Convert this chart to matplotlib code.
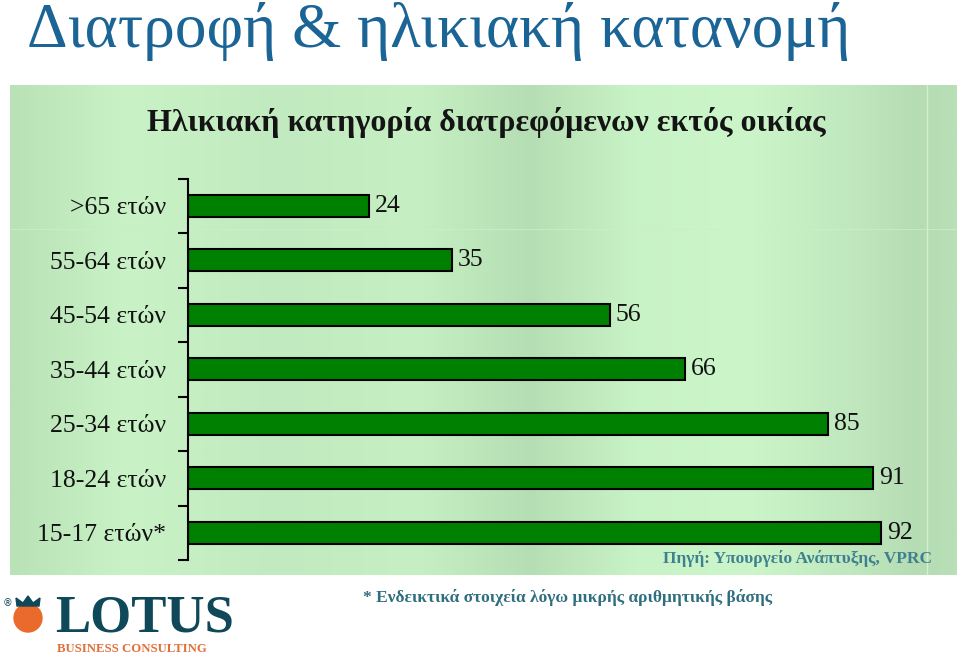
import matplotlib
matplotlib.use("Agg")
import matplotlib.pyplot as plt
import numpy as np
from matplotlib.colors import LinearSegmentedColormap
from matplotlib.patches import Circle, Polygon

categories = [">65 ετών", "55-64 ετών", "45-54 ετών", "35-44 ετών",
              "25-34 ετών", "18-24 ετών", "15-17 ετών*"]
values = [24, 35, 56, 66, 85, 91, 92]

title = "Διατροφή & ηλικιακή κατανομή"
subtitle = "Ηλικιακή κατηγορία διατρεφόμενων εκτός οικίας"
source = "Πηγή: Υπουργείο Ανάπτυξης, VPRC"
footnote = "* Ενδεικτικά στοιχεία λόγω μικρής αριθμητικής βάσης"

W, H = 959, 659
SERIF = ["Liberation Serif", "DejaVu Serif"]


def px(x, y):
    # pixel coords (from top-left) to figure fraction
    return x / W, 1 - y / H


def box(x0, y0, x1, y1):
    return [x0 / W, 1 - y1 / H, (x1 - x0) / W, (y1 - y0) / H]


fig = plt.figure(figsize=(W / 100, H / 100), dpi=100)
fig.patch.set_facecolor("white")

# green panel with soft vertical bands
bg = fig.add_axes(box(10, 85, 957, 575))
bands = LinearSegmentedColormap.from_list("bands", [
    (0.00, "#b9e2b7"), (0.12, "#c9f2c6"), (0.28, "#c2eac0"),
    (0.43, "#c6efc3"), (0.55, "#b6deb4"), (0.66, "#c8f3c6"),
    (0.78, "#ccf6c9"), (0.90, "#bfe6bd"), (0.96, "#b5dcb3"),
    (1.00, "#b9dfb7")])
grad = np.linspace(0, 1, 400).reshape(1, -1)
bg.imshow(grad, aspect="auto", cmap=bands, extent=[0, 1, 0, 1])
bg.axvline(0.968, color="#d2efd0", lw=1)
bg.axhline(1 - (229 - 85) / 490, color="#d0ecce", lw=0.8, alpha=0.7)
bg.set_xlim(0, 1)
bg.set_ylim(0, 1)
bg.axis("off")

# bar chart
ax = fig.add_axes(box(188, 178.5, 941, 560))
ax.set_facecolor("none")
y = np.arange(len(categories))
ax.barh(y, values, height=0.4, color="#008000", edgecolor="black", linewidth=1.5)
for yi, v in zip(y, values):
    ax.text(v + 0.8, yi, str(v), va="center", ha="left",
            fontsize=18.5, family=SERIF, color="#111111")
ax.set_xlim(0, 100)
ax.set_ylim(len(categories) - 0.5, -0.5)
ax.set_yticks(y)
ax.set_yticklabels(categories, family=SERIF, fontsize=18.5, color="#111111")
ax.set_yticks(np.arange(-0.5, len(categories)), minor=True)
ax.tick_params(axis="y", which="major", length=0, pad=16)
ax.tick_params(axis="y", which="minor", length=7, width=1.5, direction="out")
ax.set_xticks([])
for s in ["top", "right", "bottom"]:
    ax.spines[s].set_visible(False)
ax.spines["left"].set_linewidth(1.5)

# texts
fig.text(*px(27, 47), title, family=SERIF, fontsize=45.5, color="#1b6496",
         ha="left", va="baseline")
fig.text(*px(486, 131), subtitle, family=SERIF, fontsize=23, weight="bold",
         color="#141414", ha="center", va="baseline")
fig.text(*px(932, 563), source, family=SERIF, fontsize=12.5, weight="bold",
         color="#3f8090", ha="right", va="baseline")
fig.text(*px(568, 602), footnote, family=SERIF, fontsize=12.5, weight="bold",
         color="#2e6e7e", ha="center", va="baseline")

# logo
lg = fig.add_axes([0, 0, 1, 1])
lg.set_xlim(0, W)
lg.set_ylim(H, 0)
lg.axis("off")
lg.add_patch(Circle((28, 618), 14, color="#ea6a2c"))
lg.add_patch(Polygon([[17, 606], [16, 598], [23, 603], [28, 596], [33, 603],
                      [40, 598], [39, 606]], closed=True, color="#0f4858"))
lg.text(8, 603, "®", fontsize=7, color="#0f4858", ha="center", va="center")
lg.text(55, 632, "LOTUS", family=SERIF, fontsize=38, weight="bold",
        color="#0f4858", ha="left", va="baseline")
lg.text(57, 652, "BUSINESS CONSULTING", family=SERIF, fontsize=9.2, weight="bold",
        color="#e0703a", ha="left", va="baseline")

fig.savefig("out.png", dpi=100)
